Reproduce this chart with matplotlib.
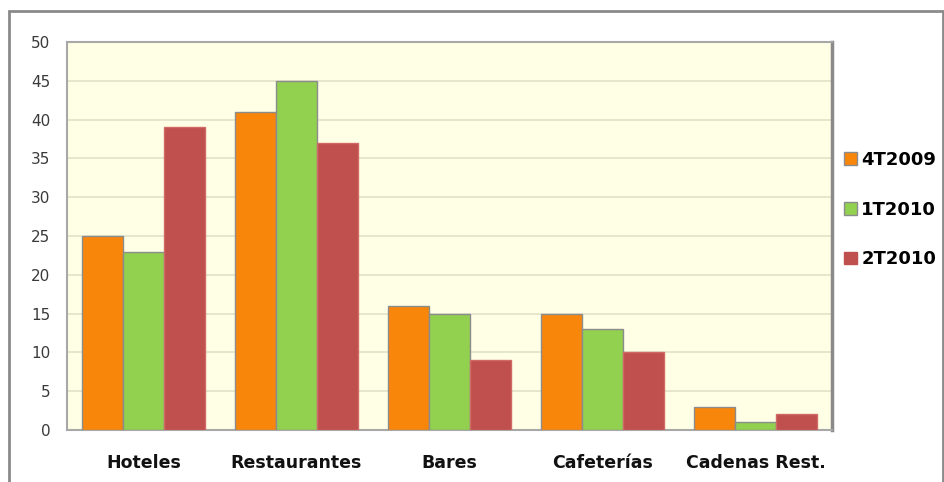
import numpy as np
import matplotlib.pyplot as plt
from matplotlib.patches import Rectangle, Patch

categories = ["Hoteles", "Restaurantes", "Bares", "Cafeterías", "Cadenas Rest."]
series_names = ["4T2009", "1T2010", "2T2010"]
q4_2009 = [25, 41, 16, 15, 3]
q1_2010 = [23, 45, 15, 13, 1]
q2_2010 = [39, 37, 9, 10, 2]

colors = ["#F8860A", "#92D050", "#C0504D"]
edges = ["#8C8C8C", "#8C8C8C", "#D06A66"]


def main():
    fig = plt.figure(figsize=(9.44, 4.82), dpi=100)
    ax = fig.add_axes([67 / 944, 52 / 482, 765 / 944, 388 / 482])
    ax.set_facecolor("#FFFFE6")

    x = np.arange(len(categories))
    width = 0.267
    for i, (vals, name) in enumerate(zip([q4_2009, q1_2010, q2_2010], series_names)):
        ax.bar(x + (i - 1) * width, vals, width, color=colors[i], edgecolor=edges[i],
               linewidth=1.0, label=name, zorder=3)

    ax.set_xlim(-0.5, len(categories) - 0.5)
    ax.set_ylim(0, 50)
    ax.set_yticks(range(0, 51, 5))
    ax.yaxis.grid(True, color="#E2E1C9", linewidth=1.2, zorder=0)
    ax.set_axisbelow(True)

    ax.set_xticks(x)
    ax.set_xticklabels(categories, fontfamily="DejaVu Sans", fontweight="bold",
                       fontsize=12.5, color="#111111")
    ax.tick_params(axis="x", length=0, pad=17)
    ax.tick_params(axis="y", length=0, pad=12, labelsize=11, labelcolor="#3A3A3A")

    for side in ["left", "bottom", "top"]:
        ax.spines[side].set_color("#A8A8A8")
        ax.spines[side].set_linewidth(1.5)
    ax.spines["right"].set_color("#8A8A8A")
    ax.spines["right"].set_linewidth(2.5)

    handles = [Patch(facecolor=c, edgecolor="#8C8C8C" if i < 2 else c, linewidth=1.0)
               for i, c in enumerate(colors)]
    fig.legend(handles, series_names, loc="upper left", bbox_to_anchor=(844 / 944, 1 - 151 / 482),
               frameon=False, handlelength=0.7, handleheight=0.7, handletextpad=0.25,
               labelspacing=1.75, borderpad=0, borderaxespad=0,
               prop={"family": "DejaVu Sans", "weight": "bold", "size": 13})

    # outer chart frame
    frame = Rectangle((9 / 944, -0.05), 934 / 944, 1.05 - 11 / 482, transform=fig.transFigure,
                      fill=False, edgecolor="#8A8A8A", linewidth=2, clip_on=False)
    fig.patches.append(frame)

    fig.savefig("out.png", dpi=100)


if __name__ == "__main__":
    main()
